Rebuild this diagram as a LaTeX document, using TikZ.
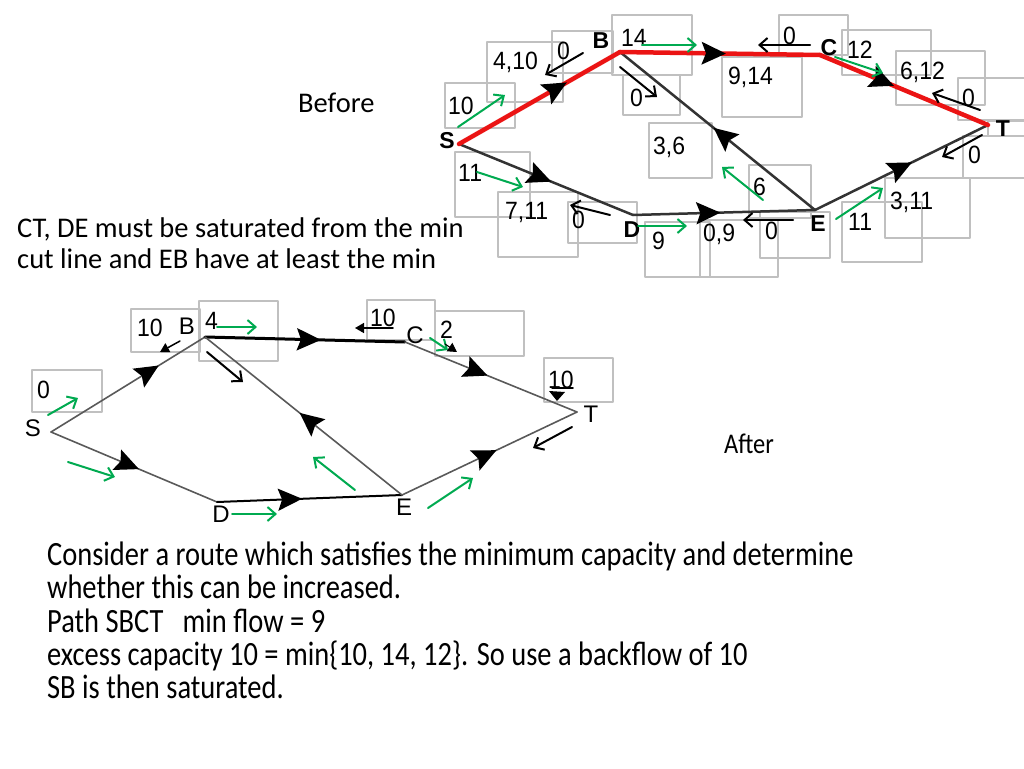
\documentclass[tikz,border=0pt]{standalone}
\usepackage{fontspec}
\setmainfont{Carlito}
\newfontfamily\netfont{Liberation Sans}
\usetikzlibrary{arrows.meta,decorations.markings}
\definecolor{flowgreen}{RGB}{0,170,80}
\definecolor{boxgray}{RGB}{192,192,192}
\definecolor{pathred}{RGB}{235,20,20}
\tikzset{
  midarr/.style={postaction={decorate,decoration={markings,
      mark=at position #1 with {\arrow[black]{Stealth[length=24pt,width=22pt,inset=4pt]}}}}},
  topedge/.style={black!80,line width=2.5pt},
  rededge/.style={pathred,line width=4.5pt},
  thinedge/.style={black!65,line width=1.6pt},
  gflow/.style={flowgreen,line width=2pt,-{Straight Barb[length=8pt,width=14pt]}},
  kflow/.style={black,line width=2pt,-{Straight Barb[length=8pt,width=14pt]}},
  kflowtri/.style={black,line width=1.5pt,-{Triangle[length=9pt,width=10pt]}},
  boxline/.style={boxgray,line width=1.8pt},
  numlbl/.style={font=\netfont\fontsize{25}{25}\selectfont,inner sep=0pt,anchor=north west,xscale=.92},
  toplbl/.style={font=\netfont\bfseries\fontsize{23}{23}\selectfont,inner sep=0pt},
  botlbl/.style={font=\netfont\fontsize{24}{24}\selectfont,inner sep=0pt},
  slidetxt/.style={font=\fontsize{28.5}{28.5}\selectfont,inner sep=0pt,anchor=base west},
  bodytxt/.style={font=\fontsize{34}{34}\selectfont,inner sep=0pt,anchor=base west,xscale=.838}
}
\begin{document}
\begin{tikzpicture}[x=1pt,y=-1pt,line join=round,line cap=round,>=stealth]
\useasboundingbox (0,0) rectangle (1024,768);
% before
\coordinate (S) at (459,144); \coordinate (B) at (620,52); \coordinate (C) at (820,55);
\coordinate (D) at (633,215); \coordinate (E) at (815,210); \coordinate (T) at (988,125);
\foreach \xa/\ya/\xb/\yb/\tx/\ty/\t [count=\i] in {445/83/515/128/448/97/10, 487/42/563/102/493/52/{4,10},
    552/31/613/73/557/42/0, 612/15/692/75/621/29/14, 623/75/680/115/630/89/0, 649/123/712/178/653/137/{3,6},
    455/152/530/217/458/164/11, 498/192/578/257/505/202/{7,11}, 568/202/637/243/572/211/0,
    645/222/710/277/652/232/9, 700/220/778/277/703/224/{0,9}, 779/15/848/55/783/27/0,
    722/57/802/117/728/67/{9,14}, 842/30/931/75/847/41/12, 896/51/985/105/900/62/{6,12},
    958/78/1030/120/962/89/0, 963/136/1030/178/968/146/0, 749/165/811/218/753/178/6,
    760/212/830/258/765/222/0, 842/202/922/262/848/213/11, 885/178/970/238/890/192/{3,11}}{
  \draw[boxline] (\xa,\ya) rectangle (\xb,\yb);
  \node[numlbl] (n\i) at (\tx,\ty) {\t};
}
\draw[boxline] (988,121) rectangle (1030,136);
\draw[topedge,midarr=.53] (S) -- (D);
\draw[topedge,midarr=.48] (D) -- (E);
\draw[topedge,midarr=.52] (E) -- (B);
\draw[topedge,midarr=.56] (E) -- (T);
\draw[rededge,midarr=.67] (S) -- (B);
\draw[rededge,midarr=.53] (B) -- (C);
\draw[rededge,midarr=.44] (C) -- (T);
\node[toplbl] (Sl) at (447,141) {S};
\node[toplbl] (Bl) at (601,41) {B};
\node[toplbl] (Cl) at (829,48) {C};
\node[toplbl] (Dl) at (632,230) {D};
\node[toplbl] (El) at (818,224) {E};
\node[toplbl] (Tl) at (1003,129) {T};
\foreach \xa/\ya/\xb/\yb in {458/127/505/95, 642/45/697/45, 835/57/883/73, 477/172/523/187,
    638/226/687/226, 763/200/722/167, 836/219/883/188}
  \draw[gflow] (\xa,\ya) -- (\xb,\yb);
\foreach \xa/\ya/\xb/\yb in {583/53/545/75, 620/67/657/97, 810/45/758/45, 980/110/932/93,
    982/135/942/157, 610/215/570/205, 793/220/743/220}
  \draw[kflow] (\xa,\ya) -- (\xb,\yb);
% after
\coordinate (S2) at (51,432); \coordinate (B2) at (205,337); \coordinate (C2) at (405,342);
\coordinate (D2) at (217,502); \coordinate (E2) at (402,495); \coordinate (T2) at (577,412);
\foreach \xa/\ya/\xb/\yb/\tx/\ty/\t [count=\i] in {131/309/200/352/137/319/10, 199/301/278/361/205/312/4,
    32/370/102/412/37/381/0, 367/300/435/340/370/309/10, 435/311/524/356/440/321/2,
    544/358/613/402/548/371/10}{
  \draw[boxline] (\xa,\ya) rectangle (\xb,\yb);
  \node[numlbl] (m\i) at (\tx,\ty) {\t};
}
\draw[thinedge,midarr=.70] (S2) -- (B2);
\draw[black,line width=3pt,midarr=.58] (B2) -- (C2);
\draw[thinedge,midarr=.48] (C2) -- (T2);
\draw[thinedge,midarr=.53] (S2) -- (D2);
\draw[black,line width=2pt,midarr=.46] (D2) -- (E2);
\draw[thinedge,midarr=.52] (E2) -- (B2);
\draw[thinedge,midarr=.54] (E2) -- (T2);
\node[botlbl] (S2l) at (33,428) {S};
\node[botlbl] (B2l) at (187,326) {B};
\node[botlbl] (C2l) at (415,335) {C};
\node[botlbl] (D2l) at (221,514) {D};
\node[botlbl] (E2l) at (404,507) {E};
\node[botlbl] (T2l) at (591,414) {T};
\foreach \xa/\ya/\xb/\yb in {217/327/257/327, 48/415/78/398, 68/462/115/477, 232/514/277/514,
    430/338/448/350, 355/490/313/457, 428/508/473/478}
  \draw[gflow] (\xa,\ya) -- (\xb,\yb);
\foreach \xa/\ya/\xb/\yb in {207/352/243/382, 572/427/533/448}
  \draw[kflow] (\xa,\ya) -- (\xb,\yb);
\draw[kflowtri] (393,328) -- (355,328);
\draw[kflowtri] (180,341) -- (160,352);
\draw[kflowtri,line width=1pt] (445,344) -- (457,352);
\draw[black,line width=1.5pt] (573,388) -- (552,388);
\fill (549,391) -- (565,392) -- (557,401) -- cycle;
% text
\node[slidetxt] (before) at (298,112) {Before};
\node[slidetxt,xscale=.86] (after) at (724,453) {After};
\node[slidetxt] (note1) at (17,237) {CT, DE must be saturated from the min};
\node[slidetxt] (note2) at (17,268) {cut line and EB have at least the min};
\node[bodytxt] (l1) at (47,565) {Consider a route which satisfies the minimum capacity and determine};
\node[bodytxt] (l2) at (47,598) {whether this can be increased.};
\node[bodytxt] (l3) at (47,632) {Path SBCT\ \ \ min flow = 9};
\node[bodytxt] (l4) at (47,665) {excess capacity 10 = min\{10, 14, 12\}. So use a backflow of 10};
\node[bodytxt] (l5) at (47,698) {SB is then saturated.};
\end{tikzpicture}
\end{document}
